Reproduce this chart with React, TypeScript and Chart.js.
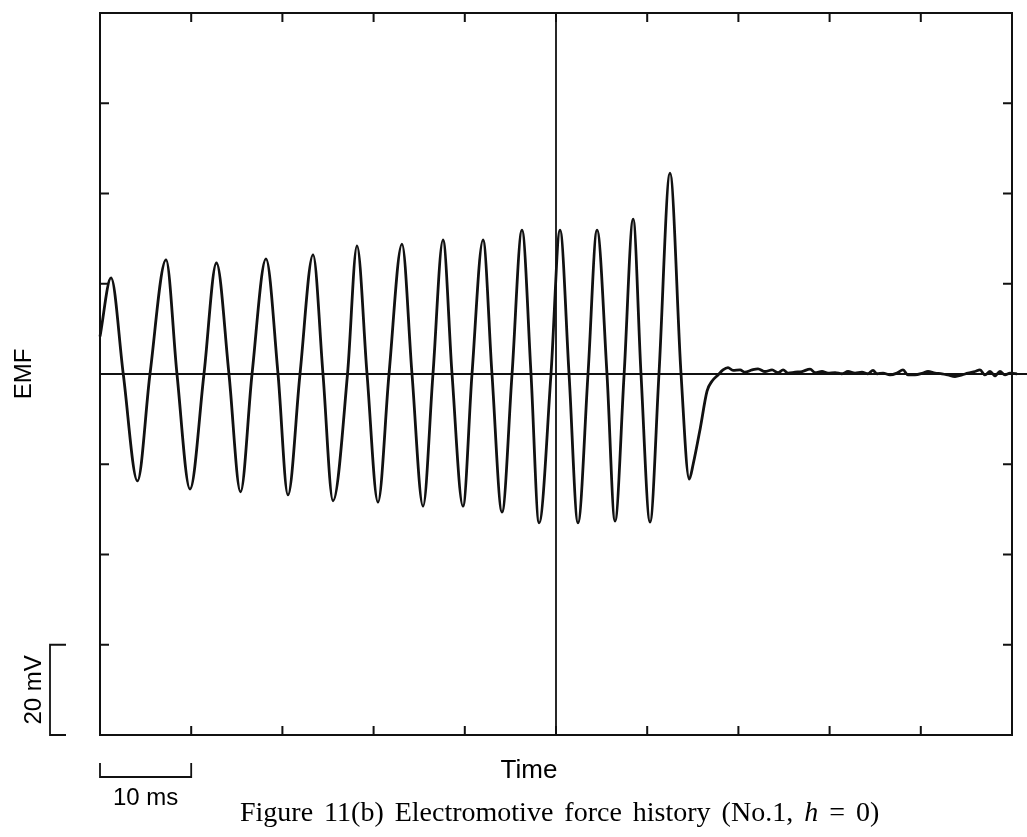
import React, { useEffect, useRef } from "react";
import { Chart, registerables } from "chart.js";

Chart.register(...registerables);

// ---- data (time in ms, EMF in mV) ----
const traceTime = [
  0, 1.21, 2.55, 4.11, 5.48, 7.24, 8.44, 9.87, 11.4, 12.77, 14.14, 15.41, 16.67,
  18.2, 19.52, 20.61, 21.93, 23.36, 24.45, 25.55, 27.14, 28.18, 29.28, 30.48,
  31.69, 33.11, 34.21, 35.42, 36.51, 37.61, 38.6, 39.8, 40.79, 42.0, 42.98,
  44.08, 45.18, 46.27, 47.26, 48.14, 49.45, 50.44, 51.43, 52.41, 53.51, 54.5,
  55.59, 56.47, 57.47, 58.46, 59.32, 60.31, 61.29, 62.5, 63.71, 64.61, 65.05,
  65.82, 66.56, 67.1, 67.77, 68.31, 68.86, 69.41, 70.18, 70.72, 71.49, 72.15,
  72.92, 73.69, 74.35, 74.9, 75.45, 76.21, 76.98, 77.86, 78.41, 79.17, 79.83,
  80.6, 81.36, 82.02, 82.79, 83.55, 84.21, 84.76, 85.2, 85.86, 86.62, 87.39,
  88.05, 88.6, 89.37, 90.24, 90.79, 91.56, 92.32, 92.98, 93.75, 94.52, 95.18,
  95.94, 96.49, 97.04, 97.59, 98.14, 98.68, 99.23, 99.78, 100.55, 101.43,
];
const traceEmf = [
  8.3, 21.3, 0, -23.7, 0, 25.3, 0, -25.5, 0, 24.6, 0, -26.1, 0,
  25.5, 0, -26.8, 0, 26.4, 0, -28.1, 0, 28.4, 0, -28.4,
  0, 28.8, 0, -29.3, 0, 29.7, 0, -29.3, 0, 29.7, 0,
  -30.6, 0, 31.9, 0, -33.0, 0, 31.9, 0, -33.0, 0, 31.9,
  0, -32.6, 0, 34.3, 0, -32.8, 0, 44.5, 0, -23.3, -19.9,
  -12.0, -3.8, -1.6, -0.2, 0.9, 1.4, 0.8, 0.9, 0.4, 0.9, 1.15,
  0.55, 0.9, 0.3, 0.9, 0.2, 0.4, 0.55, 1.1, 0.3, 0.55, 0.2,
  0.3, 0.05, 0.55, 0.2, 0.4, 0.05, 0.8, 0.05, 0.2, -0.2, 0.2,
  0.9, -0.2, -0.2, 0.2, 0.55, 0.2, 0.05, -0.2, -0.55, -0.2, 0.2,
  0.55, 0.9, -0.2, 0.55, -0.4, 0.55, -0.2, 0.2, 0.05, -0.2,
];
const zeroLineTime = [0, 101.7];
const zeroLineEmf = [0, 0];
const xTickValues = [0, 10, 20, 30, 40, 50, 60, 70, 80, 90, 100];
const yTickValues = [-80, -60, -40, -20, 0, 20, 40, 60, 80];
const markerTime = 50;
const timeBar = [0, 10];
const emfBar = [-80, -60];
const xLabel = "Time";
const yLabel = "EMF";
const timeBarLabel = "10 ms";
const emfBarLabel = "20 mV";
const captionWords = [
  { text: "Figure", italic: false },
  { text: "11(b)", italic: false },
  { text: "Electromotive", italic: false },
  { text: "force", italic: false },
  { text: "history", italic: false },
  { text: "(No.1,", italic: false },
  { text: "h", italic: true },
  { text: "=", italic: false },
  { text: "0)", italic: false },
];

const SANS = '"Liberation Sans", Arial, sans-serif';
const SERIF = '"Liberation Serif", "Times New Roman", serif';

export default function App() {
  const ref = useRef<HTMLCanvasElement>(null);

  useEffect(() => {
    if (!ref.current) return;
    const framePlugin = {
      id: "framePlugin",
      afterDraw(chart: any) {
        const ctx = chart.ctx as CanvasRenderingContext2D;
        const xs = chart.scales.x;
        const ys = chart.scales.y;
        const { left, right, top, bottom } = chart.chartArea;
        ctx.save();
        ctx.strokeStyle = "#111";
        ctx.fillStyle = "#111";
        ctx.lineCap = "butt";
        // frame
        ctx.lineWidth = 2;
        ctx.strokeRect(left, top, right - left, bottom - top);
        // inward ticks
        const tl = 9;
        ctx.lineWidth = 2;
        ctx.beginPath();
        xTickValues.forEach((v) => {
          const px = xs.getPixelForValue(v);
          ctx.moveTo(px, top);
          ctx.lineTo(px, top + tl);
          ctx.moveTo(px, bottom);
          ctx.lineTo(px, bottom - tl);
        });
        yTickValues.forEach((v) => {
          const py = ys.getPixelForValue(v);
          ctx.moveTo(left, py);
          ctx.lineTo(left + tl, py);
          ctx.moveTo(right, py);
          ctx.lineTo(right - tl, py);
        });
        ctx.stroke();
        // center marker line
        const mx = xs.getPixelForValue(markerTime);
        ctx.lineWidth = 1.8;
        ctx.beginPath();
        ctx.moveTo(mx, top);
        ctx.lineTo(mx, bottom);
        ctx.stroke();

        // 20 mV scale bar
        const bx = 50;
        const by1 = ys.getPixelForValue(emfBar[1]);
        const by0 = ys.getPixelForValue(emfBar[0]);
        ctx.lineWidth = 1.8;
        ctx.beginPath();
        ctx.moveTo(bx + 16, by1);
        ctx.lineTo(bx, by1);
        ctx.lineTo(bx, by0);
        ctx.lineTo(bx + 16, by0);
        ctx.stroke();

        // 10 ms scale bar
        const tx0 = xs.getPixelForValue(timeBar[0]);
        const tx1 = xs.getPixelForValue(timeBar[1]);
        const ty = 777;
        ctx.beginPath();
        ctx.moveTo(tx0, ty - 14);
        ctx.lineTo(tx0, ty);
        ctx.lineTo(tx1, ty);
        ctx.lineTo(tx1, ty - 14);
        ctx.stroke();

        // labels
        ctx.fillStyle = "#000";
        ctx.font = `26px ${SANS}`;
        ctx.textAlign = "center";
        ctx.textBaseline = "alphabetic";
        ctx.fillText(xLabel, 529, 778);

        ctx.font = `24px ${SANS}`;
        ctx.fillText(timeBarLabel, (tx0 + tx1) / 2, 805);

        ctx.save();
        ctx.translate(31, ys.getPixelForValue(0));
        ctx.rotate(-Math.PI / 2);
        ctx.font = `24px ${SANS}`;
        ctx.textAlign = "center";
        ctx.fillText(yLabel, 0, 0);
        ctx.restore();

        ctx.save();
        ctx.translate(41, (by0 + by1) / 2);
        ctx.rotate(-Math.PI / 2);
        ctx.font = `24px ${SANS}`;
        ctx.textAlign = "center";
        ctx.fillText(emfBarLabel, 0, 0);
        ctx.restore();

        // caption
        ctx.textAlign = "left";
        let cx = 240;
        const cy = 821;
        const extra = 4;
        captionWords.forEach((w, i) => {
          ctx.font = `${w.italic ? "italic " : ""}28px ${SERIF}`;
          ctx.fillText(w.text, cx, cy);
          cx += ctx.measureText(w.text).width;
          if (i < captionWords.length - 1) {
            ctx.font = `28px ${SERIF}`;
            cx += ctx.measureText(" ").width + extra;
          }
        });

        ctx.restore();
      },
    };

    const chart = new Chart(ref.current, {
      type: "line",
      data: {
        datasets: [
          {
            data: traceTime.map((t, i) => ({ x: t, y: traceEmf[i] })),
            borderColor: "#111",
            borderWidth: 2.8,
            pointRadius: 0,
            cubicInterpolationMode: "monotone",
            fill: false,
            clip: false as any,
          },
          {
            data: zeroLineTime.map((t, i) => ({ x: t, y: zeroLineEmf[i] })),
            borderColor: "#111",
            borderWidth: 2,
            pointRadius: 0,
            fill: false,
            clip: false as any,
          },
        ],
      },
      options: {
        responsive: false,
        animation: false,
        events: [],
        layout: { padding: { left: 100, right: 15, top: 13, bottom: 102 } },
        scales: {
          x: { type: "linear", min: 0, max: 100, display: false },
          y: { type: "linear", min: -80, max: 80, display: false },
        },
        plugins: { legend: { display: false }, tooltip: { enabled: false }, title: { display: false } },
      },
      plugins: [framePlugin],
    } as any);
    return () => chart.destroy();
  }, []);

  return (
    <div style={{ position: "fixed", left: 0, top: 0, width: 1027, height: 837, background: "#fff" }}>
      <canvas ref={ref} width={1027} height={837} style={{ display: "block", width: 1027, height: 837 }} />
    </div>
  );
}
